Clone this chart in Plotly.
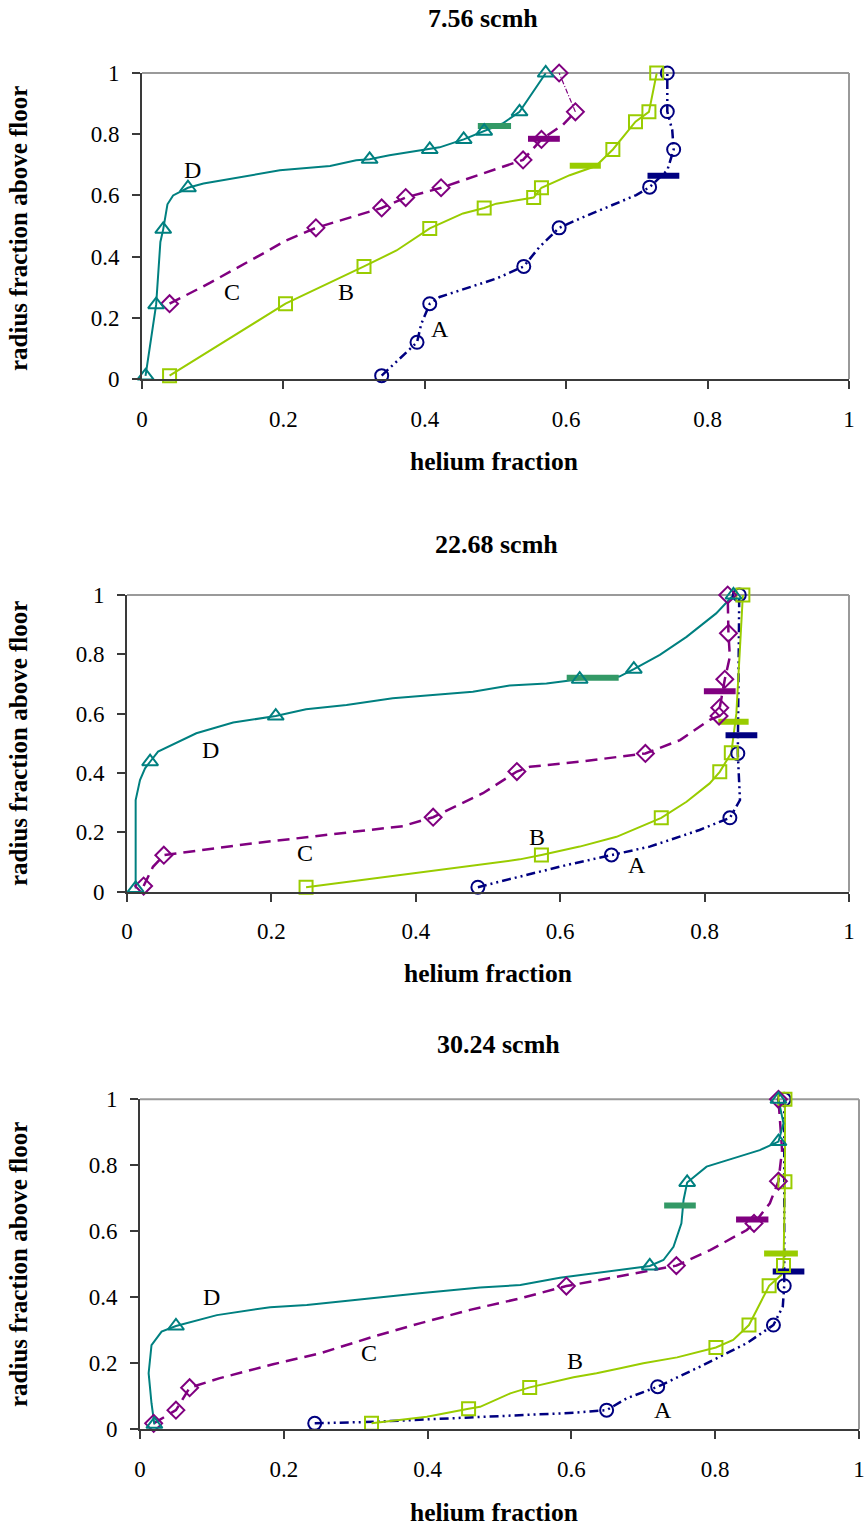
import plotly.graph_objects as go

# ---------------- Panel 1 : 7.56 scmh ----------------
p1_title = "7.56 scmh"
p1_A_line_x = [0.339, 0.389, 0.395, 0.407, 0.421, 0.501, 0.540, 0.562, 0.590, 0.619, 0.699, 0.718, 0.743, 0.752, 0.750, 0.743, 0.743]
p1_A_line_y = [0.011, 0.120, 0.180, 0.246, 0.268, 0.328, 0.368, 0.431, 0.494, 0.524, 0.601, 0.627, 0.682, 0.750, 0.813, 0.874, 1.0]
p1_A_pts_x = [0.339, 0.389, 0.407, 0.540, 0.590, 0.718, 0.752, 0.743, 0.743]
p1_A_pts_y = [0.011, 0.120, 0.246, 0.368, 0.494, 0.627, 0.750, 0.874, 1.0]
p1_B_line_x = [0.039, 0.203, 0.314, 0.360, 0.407, 0.454, 0.484, 0.501, 0.554, 0.565, 0.605, 0.642, 0.666, 0.698, 0.717, 0.728]
p1_B_line_y = [0.011, 0.246, 0.368, 0.420, 0.492, 0.541, 0.559, 0.573, 0.593, 0.625, 0.666, 0.696, 0.750, 0.841, 0.873, 0.999]
p1_B_pts_x = [0.039, 0.203, 0.314, 0.407, 0.484, 0.554, 0.565, 0.666, 0.698, 0.717, 0.728]
p1_B_pts_y = [0.011, 0.246, 0.368, 0.492, 0.559, 0.593, 0.625, 0.750, 0.841, 0.873, 1.0]
p1_C_line_x = [0.039, 0.096, 0.171, 0.204, 0.246, 0.322, 0.339, 0.373, 0.423, 0.539, 0.565, 0.595, 0.613]
p1_C_line_y = [0.246, 0.314, 0.410, 0.453, 0.494, 0.549, 0.559, 0.593, 0.625, 0.716, 0.783, 0.830, 0.873]
p1_C_top_x = [0.613, 0.590]
p1_C_top_y = [0.873, 1.0]
p1_C_pts_x = [0.039, 0.246, 0.339, 0.373, 0.423, 0.539, 0.565, 0.613, 0.590]
p1_C_pts_y = [0.246, 0.494, 0.559, 0.593, 0.625, 0.716, 0.783, 0.873, 1.0]
p1_D_line_x = [0.005, 0.020, 0.026, 0.030, 0.036, 0.044, 0.065, 0.087, 0.195, 0.266, 0.303, 0.322, 0.350, 0.407, 0.421, 0.455, 0.484, 0.510, 0.534, 0.548, 0.571]
p1_D_line_y = [0.010, 0.243, 0.448, 0.489, 0.571, 0.600, 0.625, 0.639, 0.682, 0.696, 0.715, 0.718, 0.731, 0.750, 0.757, 0.783, 0.810, 0.835, 0.873, 0.922, 0.999]
p1_D_pts_x = [0.005, 0.020, 0.030, 0.065, 0.322, 0.407, 0.455, 0.484, 0.534, 0.571]
p1_D_pts_y = [0.010, 0.243, 0.489, 0.625, 0.718, 0.750, 0.783, 0.810, 0.873, 1.0]
p1_bar_x0 = [0.715, 0.605, 0.546, 0.475]   # A, B, C, D
p1_bar_x1 = [0.760, 0.649, 0.591, 0.522]
p1_bar_y = [0.664, 0.697, 0.785, 0.827]
p1_lab_x = [0.421, 0.288, 0.127, 0.072]
p1_lab_y = [0.164, 0.284, 0.284, 0.682]

# ---------------- Panel 2 : 22.68 scmh ----------------
p2_title = "22.68 scmh"
p2_A_line_x = [0.486, 0.516, 0.609, 0.671, 0.724, 0.793, 0.835, 0.849, 0.848, 0.846, 0.848]
p2_A_line_y = [0.015, 0.034, 0.090, 0.124, 0.152, 0.208, 0.249, 0.309, 0.376, 0.466, 1.0]
p2_A_pts_x = [0.486, 0.671, 0.835, 0.846, 0.848]
p2_A_pts_y = [0.015, 0.124, 0.249, 0.466, 1.0]
p2_B_line_x = [0.248, 0.544, 0.574, 0.627, 0.678, 0.740, 0.775, 0.807, 0.821, 0.837, 0.844, 0.853]
p2_B_line_y = [0.015, 0.109, 0.124, 0.152, 0.185, 0.249, 0.303, 0.365, 0.404, 0.468, 0.601, 1.0]
p2_B_pts_x = [0.248, 0.574, 0.740, 0.821, 0.837, 0.853]
p2_B_pts_y = [0.015, 0.124, 0.249, 0.404, 0.468, 1.0]
p2_C_line_x = [0.023, 0.036, 0.051, 0.068, 0.175, 0.267, 0.382, 0.424, 0.493, 0.540, 0.558, 0.627, 0.718, 0.766, 0.807, 0.820, 0.821, 0.828, 0.835, 0.833, 0.832]
p2_C_line_y = [0.019, 0.084, 0.123, 0.129, 0.163, 0.188, 0.221, 0.251, 0.332, 0.405, 0.421, 0.438, 0.466, 0.511, 0.579, 0.592, 0.620, 0.716, 0.792, 0.871, 1.0]
p2_C_pts_x = [0.023, 0.051, 0.424, 0.540, 0.718, 0.820, 0.821, 0.828, 0.833, 0.832]
p2_C_pts_y = [0.019, 0.123, 0.251, 0.405, 0.466, 0.592, 0.620, 0.716, 0.871, 1.0]
p2_D_line_x = [0.012, 0.012, 0.018, 0.025, 0.032, 0.043, 0.096, 0.147, 0.206, 0.248, 0.304, 0.368, 0.479, 0.530, 0.581, 0.627, 0.682, 0.702, 0.738, 0.775, 0.816, 0.840]
p2_D_line_y = [0.011, 0.309, 0.376, 0.416, 0.438, 0.472, 0.534, 0.570, 0.592, 0.615, 0.629, 0.652, 0.674, 0.695, 0.702, 0.716, 0.725, 0.750, 0.798, 0.859, 0.938, 1.0]
p2_D_pts_x = [0.012, 0.032, 0.206, 0.627, 0.702, 0.840]
p2_D_pts_y = [0.011, 0.438, 0.592, 0.716, 0.750, 1.0]
p2_bar_x0 = [0.829, 0.819, 0.799, 0.609]
p2_bar_x1 = [0.873, 0.861, 0.843, 0.681]
p2_bar_y = [0.527, 0.573, 0.676, 0.721]
p2_lab_x = [0.706, 0.568, 0.246, 0.115]
p2_lab_y = [0.090, 0.185, 0.129, 0.478]

# ---------------- Panel 3 : 30.24 scmh ----------------
p3_title = "30.24 scmh"
p3_A_line_x = [0.243, 0.329, 0.459, 0.556, 0.603, 0.649, 0.677, 0.720, 0.779, 0.844, 0.881, 0.894, 0.896, 0.896]
p3_A_line_y = [0.018, 0.023, 0.036, 0.046, 0.050, 0.058, 0.094, 0.129, 0.190, 0.261, 0.316, 0.372, 0.435, 1.0]
p3_A_pts_x = [0.243, 0.649, 0.720, 0.881, 0.896, 0.896]
p3_A_pts_y = [0.018, 0.058, 0.129, 0.316, 0.435, 1.0]
p3_B_line_x = [0.322, 0.399, 0.457, 0.473, 0.515, 0.542, 0.603, 0.635, 0.668, 0.700, 0.747, 0.801, 0.825, 0.847, 0.875, 0.892, 0.895, 0.897, 0.897]
p3_B_line_y = [0.018, 0.038, 0.062, 0.068, 0.109, 0.127, 0.158, 0.170, 0.185, 0.200, 0.218, 0.248, 0.271, 0.316, 0.435, 0.468, 0.496, 0.750, 1.0]
p3_B_pts_x = [0.322, 0.457, 0.542, 0.801, 0.847, 0.875, 0.895, 0.897, 0.897]
p3_B_pts_y = [0.018, 0.062, 0.127, 0.248, 0.316, 0.435, 0.496, 0.750, 1.0]
p3_C_line_x = [0.019, 0.050, 0.069, 0.111, 0.185, 0.250, 0.325, 0.389, 0.459, 0.529, 0.593, 0.677, 0.746, 0.793, 0.844, 0.854, 0.876, 0.888, 0.893, 0.888]
p3_C_line_y = [0.018, 0.058, 0.126, 0.155, 0.197, 0.230, 0.281, 0.321, 0.362, 0.397, 0.434, 0.468, 0.496, 0.543, 0.604, 0.624, 0.685, 0.752, 0.846, 1.0]
p3_C_pts_x = [0.019, 0.050, 0.069, 0.593, 0.746, 0.854, 0.888, 0.888]
p3_C_pts_y = [0.018, 0.058, 0.126, 0.434, 0.496, 0.624, 0.752, 1.0]
p3_D_line_x = [0.020, 0.016, 0.012, 0.016, 0.030, 0.050, 0.107, 0.181, 0.232, 0.297, 0.389, 0.473, 0.529, 0.584, 0.654, 0.709, 0.728, 0.742, 0.753, 0.756, 0.761, 0.788, 0.825, 0.862, 0.888, 0.895, 0.888]
p3_D_line_y = [0.015, 0.079, 0.170, 0.255, 0.296, 0.313, 0.346, 0.370, 0.377, 0.392, 0.412, 0.430, 0.437, 0.459, 0.478, 0.495, 0.513, 0.553, 0.624, 0.695, 0.748, 0.796, 0.821, 0.846, 0.872, 0.927, 1.0]
p3_D_pts_x = [0.020, 0.050, 0.709, 0.761, 0.888, 0.888]
p3_D_pts_y = [0.015, 0.313, 0.495, 0.748, 0.872, 1.0]
p3_bar_x0 = [0.880, 0.868, 0.829, 0.729]
p3_bar_x1 = [0.924, 0.915, 0.874, 0.773]
p3_bar_y = [0.478, 0.533, 0.636, 0.678]
p3_lab_x = [0.727, 0.605, 0.319, 0.100]
p3_lab_y = [0.058, 0.208, 0.230, 0.402]

series_names = ["A", "B", "C", "D"]
tick_vals = [0, 0.2, 0.4, 0.6, 0.8, 1]
tick_text = ["0", "0.2", "0.4", "0.6", "0.8", "1"]
x_title = "helium fraction"
y_title = "radius fraction above floor"

# ---------------- styling ----------------
W, H = 866, 1533
SERIF = "Liberation Serif, Times New Roman, serif"
col = {"A": "#000080", "B": "#99CC00", "C": "#800080", "D": "#008080"}
bar_col = {"A": "#000080", "B": "#99CC00", "C": "#800080", "D": "#339966"}
dash = {"A": "9px,4px,2px,4px,2px,4px", "B": "solid", "C": "12px,7px", "D": "solid"}
lw = {"A": 2.5, "B": 2, "C": 2.5, "D": 2}
sym = {"A": "circle-open", "B": "square-open", "C": "diamond-open", "D": "triangle-up-open"}
msize = {"A": 13, "B": 13, "C": 13, "D": 14}

# panel pixel boxes (screen pixels): left, right, top, bottom
boxes = [(142, 849, 73, 379), (127, 849, 595, 891.7), (140, 859, 1099.3, 1429.3)]
title_pos = [(483, 19), (496, 544), (498, 1044)]
xtitle_pos = [(494, 461), (488, 973), (494, 1512)]
ytitle_pos = [(18, 229), (18, 744), (18, 1265)]


def fx(px):
    return px / W


def fy(py):
    return 1 - py / H


panels = [
    dict(title=p1_title,
         line={"A": (p1_A_line_x, p1_A_line_y), "B": (p1_B_line_x, p1_B_line_y), "C": (p1_C_line_x, p1_C_line_y), "D": (p1_D_line_x, p1_D_line_y)},
         pts={"A": (p1_A_pts_x, p1_A_pts_y), "B": (p1_B_pts_x, p1_B_pts_y), "C": (p1_C_pts_x, p1_C_pts_y), "D": (p1_D_pts_x, p1_D_pts_y)},
         extra=[("C", p1_C_top_x, p1_C_top_y)],
         bars=(p1_bar_x0, p1_bar_x1, p1_bar_y), labs=(p1_lab_x, p1_lab_y)),
    dict(title=p2_title,
         line={"A": (p2_A_line_x, p2_A_line_y), "B": (p2_B_line_x, p2_B_line_y), "C": (p2_C_line_x, p2_C_line_y), "D": (p2_D_line_x, p2_D_line_y)},
         pts={"A": (p2_A_pts_x, p2_A_pts_y), "B": (p2_B_pts_x, p2_B_pts_y), "C": (p2_C_pts_x, p2_C_pts_y), "D": (p2_D_pts_x, p2_D_pts_y)},
         extra=[], bars=(p2_bar_x0, p2_bar_x1, p2_bar_y), labs=(p2_lab_x, p2_lab_y)),
    dict(title=p3_title,
         line={"A": (p3_A_line_x, p3_A_line_y), "B": (p3_B_line_x, p3_B_line_y), "C": (p3_C_line_x, p3_C_line_y), "D": (p3_D_line_x, p3_D_line_y)},
         pts={"A": (p3_A_pts_x, p3_A_pts_y), "B": (p3_B_pts_x, p3_B_pts_y), "C": (p3_C_pts_x, p3_C_pts_y), "D": (p3_D_pts_x, p3_D_pts_y)},
         extra=[], bars=(p3_bar_x0, p3_bar_x1, p3_bar_y), labs=(p3_lab_x, p3_lab_y)),
]

fig = go.Figure()
annotations = []
shapes = []
layout_axes = {}

for i, p in enumerate(panels):
    n = "" if i == 0 else str(i + 1)
    xr, yr = "x" + n, "y" + n
    L, R, T, B = boxes[i]
    axis_common = dict(range=[0, 1], tickvals=tick_vals, ticktext=tick_text, showline=True,
                       linecolor="#3a3a3a", linewidth=2, ticks="outside", ticklen=8, tickwidth=2,
                       tickcolor="#3a3a3a", showgrid=False, zeroline=False, fixedrange=True,
                       automargin=False,
                       tickfont=dict(family=SERIF, size=23, color="black"))
    layout_axes["xaxis" + n] = dict(axis_common, domain=[fx(L), fx(R)], anchor=yr, ticklabelstandoff=10)
    layout_axes["yaxis" + n] = dict(axis_common, domain=[fy(B), fy(T)], anchor=xr, ticklabelstandoff=8)

    # grey top and right frame
    for (x0, y0, x1, y1) in [(0, 1, 1, 1), (1, 0, 1, 1)]:
        shapes.append(dict(type="line", xref=xr + " domain", yref=yr + " domain", x0=x0, y0=y0, x1=x1, y1=y1,
                           line=dict(color="#9a9a9a", width=2), layer="below"))

    for s in series_names:
        lx, ly = p["line"][s]
        fig.add_trace(go.Scatter(x=lx, y=ly, mode="lines", xaxis=xr, yaxis=yr, showlegend=False,
                                 cliponaxis=False, hoverinfo="skip",
                                 line=dict(color=col[s], width=lw[s], dash=dash[s])))
    for (s, ex, ey) in p["extra"]:
        fig.add_trace(go.Scatter(x=ex, y=ey, mode="lines", xaxis=xr, yaxis=yr, showlegend=False,
                                 cliponaxis=False, line=dict(color=col[s], width=1.2, dash="5px,2px,1px,2px")))
    bx0, bx1, by = p["bars"]
    for k, s in enumerate(series_names):
        fig.add_trace(go.Scatter(x=[bx0[k], bx1[k]], y=[by[k], by[k]], mode="lines", xaxis=xr, yaxis=yr,
                                 showlegend=False, cliponaxis=False,
                                 line=dict(color=bar_col[s], width=6)))
    for s in series_names:
        px_, py_ = p["pts"][s]
        fig.add_trace(go.Scatter(x=px_, y=py_, mode="markers", xaxis=xr, yaxis=yr, showlegend=False,
                                 cliponaxis=False,
                                 marker=dict(symbol=sym[s], size=msize[s], color=col[s],
                                             line=dict(color=col[s], width=2))))
    labx, laby = p["labs"]
    for k, s in enumerate(series_names):
        annotations.append(dict(x=labx[k], y=laby[k], xref=xr, yref=yr, text=s, showarrow=False,
                                xanchor="center", yanchor="middle",
                                font=dict(family=SERIF, size=24, color="black")))
    # titles
    tx, ty = title_pos[i]
    annotations.append(dict(x=fx(tx), y=fy(ty), xref="paper", yref="paper", text="<b>%s</b>" % p["title"],
                            showarrow=False, xanchor="center", yanchor="middle",
                            font=dict(family=SERIF, size=26, color="black")))
    xx, xy = xtitle_pos[i]
    annotations.append(dict(x=fx(xx), y=fy(xy), xref="paper", yref="paper", text="<b>%s</b>" % x_title,
                            showarrow=False, xanchor="center", yanchor="middle",
                            font=dict(family=SERIF, size=25.5, color="black")))
    yx, yy = ytitle_pos[i]
    annotations.append(dict(x=fx(yx), y=fy(yy), xref="paper", yref="paper", text="<b>%s</b>" % y_title,
                            showarrow=False, xanchor="center", yanchor="middle", textangle=-90,
                            font=dict(family=SERIF, size=25, color="black")))

fig.update_layout(template="none", width=W, height=H, autosize=False,
                  margin=dict(l=0, r=0, t=0, b=0, pad=0, autoexpand=False),
                  paper_bgcolor="white", plot_bgcolor="white", showlegend=False,
                  annotations=annotations, shapes=shapes, **layout_axes)

fig.write_html("out.html", config={"displayModeBar": False, "staticPlot": True},
               post_script="document.body.style.margin='0px';")
